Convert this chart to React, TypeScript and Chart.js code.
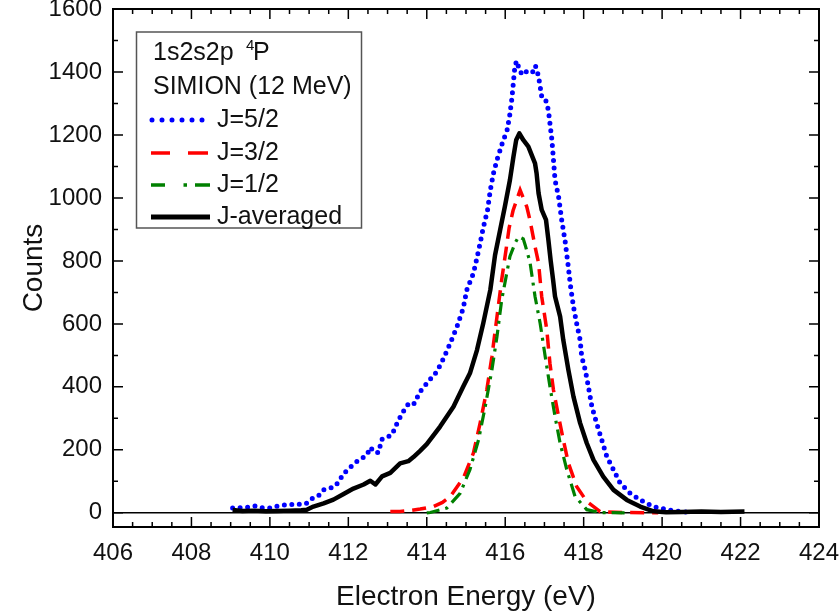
import React, { useEffect, useRef } from "react";
import { Chart, registerables } from "chart.js";

Chart.register(...registerables);

const FONT = "'Liberation Sans', Arial, sans-serif";

// ---- data ----
const energyJ52 = [409.05, 409.41, 409.63, 409.8, 410.0, 410.2, 410.47, 410.69, 410.8, 410.94, 411.03, 411.16, 411.24, 411.37, 411.54, 411.67, 411.84, 411.96, 412.09, 412.22, 412.35, 412.47, 412.57, 412.64, 412.77, 412.85, 412.98, 413.11, 413.24, 413.37, 413.53, 413.66, 413.83, 414.04, 414.26, 414.43, 414.6, 414.77, 414.93, 415.02, 415.19, 415.28, 415.36, 415.44, 415.55, 415.62, 415.7, 415.79, 415.87, 415.95, 416.04, 416.11, 416.17, 416.21, 416.25, 416.3, 416.36, 416.42, 416.48, 416.55, 416.62, 416.7, 416.77, 416.83, 416.87, 416.93, 417.02, 417.1, 417.14, 417.19, 417.23, 417.27, 417.36, 417.44, 417.53, 417.6, 417.67, 417.74, 417.82, 417.91, 417.95, 418.04, 418.12, 418.21, 418.33, 418.46, 418.59, 418.76, 418.93, 419.18, 419.44, 419.78, 420.12, 420.46, 420.7];
const countsJ52 = [15, 17, 22, 16, 15, 22, 26, 28, 26, 31, 42, 52, 54, 73, 79, 84, 116, 135, 149, 163, 173, 184, 208, 194, 191, 233, 241, 247, 284, 316, 346, 343, 385, 417, 449, 491, 539, 591, 650, 708, 761, 810, 856, 905, 962, 1025, 1078, 1121, 1152, 1184, 1210, 1258, 1316, 1369, 1422, 1435, 1405, 1395, 1405, 1400, 1405, 1400, 1420, 1395, 1370, 1322, 1316, 1279, 1237, 1184, 1121, 1057, 1004, 930, 860, 790, 715, 655, 602, 549, 496, 454, 401, 337, 285, 232, 179, 137, 94, 63, 41, 20, 10, 4, 2];

const energyJ32 = [413.07, 413.32, 413.6, 413.83, 414.17, 414.4, 414.6, 414.93, 415.19, 415.36, 415.53, 415.66, 415.79, 415.91, 416.02, 416.1, 416.2, 416.38, 416.55, 416.63, 416.76, 416.85, 416.93, 417.06, 417.14, 417.23, 417.36, 417.48, 417.61, 417.82, 418.08, 418.42, 419.0, 419.9];
const countsJ32 = [4, 4, 8, 12, 20, 33, 52, 110, 190, 285, 390, 496, 623, 740, 835, 905, 960, 1025, 972, 930, 846, 793, 687, 581, 475, 390, 306, 232, 158, 84, 36, 4, 1, 0];

const energyJ12 = [414.0, 414.09, 414.51, 414.85, 415.1, 415.32, 415.49, 415.66, 415.79, 415.91, 416.12, 416.25, 416.34, 416.46, 416.51, 416.63, 416.76, 416.89, 417.02, 417.14, 417.27, 417.4, 417.57, 417.78, 418.08, 418.42, 419.1];
const countsJ12 = [0, 1, 15, 62, 137, 232, 337, 454, 560, 676, 814, 856, 877, 870, 850, 797, 687, 602, 496, 401, 306, 221, 137, 52, 10, 1, 0];

const energyAvg = [409.05, 409.3, 409.6, 409.9, 410.2, 410.5, 410.8, 410.94, 411.11, 411.37, 411.62, 411.88, 412.13, 412.39, 412.56, 412.69, 412.86, 413.07, 413.32, 413.53, 413.66, 413.83, 414.0, 414.34, 414.68, 414.93, 415.1, 415.28, 415.44, 415.62, 415.74, 415.87, 415.99, 416.12, 416.21, 416.28, 416.36, 416.46, 416.59, 416.76, 416.8, 416.85, 416.93, 417.04, 417.1, 417.16, 417.22, 417.27, 417.4, 417.48, 417.61, 417.74, 417.91, 418.08, 418.25, 418.5, 418.76, 419.1, 419.44, 419.78, 420.1, 420.5, 421.0, 421.5, 422.1];
const countsAvg = [9, 6, 7, 5, 6, 7, 8, 10, 20, 30, 42, 60, 77, 90, 102, 90, 116, 127, 157, 164, 177, 197, 218, 274, 337, 401, 443, 517, 602, 708, 818, 898, 972, 1057, 1131, 1184, 1205, 1184, 1163, 1110, 1078, 1015, 962, 930, 867, 800, 740, 687, 623, 549, 454, 369, 285, 221, 168, 115, 73, 41, 20, 5, 2, 3, 4, 3, 4];

const seriesLabels = ["J=5/2", "J=3/2", "J=1/2", "J-averaged"];
const legendLine1 = "1s2s2p";
const legendSup = "4";
const legendLineP = "P";
const legendLine2 = "SIMION (12 MeV)";
const xAxisTitle = "Electron Energy (eV)";
const yAxisTitle = "Counts";

const xTickValues = [406, 408, 410, 412, 414, 416, 418, 420, 422, 424];
const yTickValues = [0, 200, 400, 600, 800, 1000, 1200, 1400, 1600];
const X_MIN = 406;
const X_MAX = 424;
const Y_MIN = -45;
const Y_MAX = 1600;
const X_MINOR = 0.5;
const Y_MINOR = 100;

const toPoints = (xs: number[], ys: number[]) => xs.map((x, i) => ({ x, y: ys[i] }));

const framePlugin = {
  id: "frameTicks",
  beforeDatasetsDraw(chart: any) {
    const { ctx, chartArea } = chart;
    const ys = chart.scales.y;
    const y0 = ys.getPixelForValue(0);
    ctx.save();
    ctx.strokeStyle = "#000";
    ctx.lineWidth = 1.5;
    ctx.beginPath();
    ctx.moveTo(chartArea.left, y0);
    ctx.lineTo(chartArea.right, y0);
    ctx.stroke();
    ctx.restore();
  },
  afterDatasetsDraw(chart: any) {
    const { ctx, chartArea } = chart;
    const { left, right, top, bottom } = chartArea;
    const xs = chart.scales.x;
    const ys = chart.scales.y;
    ctx.save();
    ctx.strokeStyle = "#000";
    ctx.lineWidth = 1.5;
    ctx.beginPath();
    const nx = Math.round((X_MAX - X_MIN) / X_MINOR);
    for (let i = 0; i <= nx; i++) {
      const v = X_MIN + i * X_MINOR;
      const px = xs.getPixelForValue(v);
      const major = xTickValues.includes(v);
      const len = major ? 10 : 5;
      ctx.moveTo(px, bottom);
      ctx.lineTo(px, bottom - len);
      ctx.moveTo(px, top);
      ctx.lineTo(px, top + len);
    }
    for (let v = 0; v <= Y_MAX; v += Y_MINOR) {
      const py = ys.getPixelForValue(v);
      const major = yTickValues.includes(v);
      const len = major ? 10 : 5;
      ctx.moveTo(left, py);
      ctx.lineTo(left + len, py);
      ctx.moveTo(right, py);
      ctx.lineTo(right - len, py);
    }
    ctx.stroke();
    ctx.lineWidth = 2;
    ctx.strokeRect(left, top, right - left, bottom - top);

    // legend box
    const bx = left + 23.5;
    const by = top + 23;
    const bw = 225;
    const bh = 196;
    ctx.fillStyle = "#fff";
    ctx.fillRect(bx, by, bw, bh);
    ctx.strokeStyle = "#555";
    ctx.lineWidth = 1.5;
    ctx.strokeRect(bx, by, bw, bh);

    ctx.fillStyle = "#111";
    ctx.textBaseline = "middle";
    ctx.textAlign = "left";
    ctx.font = `25px ${FONT}`;
    ctx.fillText(legendLine1, left + 40, top + 44);
    ctx.fillText(legendLineP, left + 140, top + 44);
    ctx.font = `15px ${FONT}`;
    ctx.fillText(legendSup, left + 133, top + 37);
    ctx.font = `25px ${FONT}`;
    ctx.fillText(legendLine2, left + 40, top + 78);

    const rows = [top + 111, top + 144, top + 176, top + 208];
    const x0 = left + 38;
    // blue dots
    ctx.lineCap = "round";
    ctx.strokeStyle = "#0000ff";
    ctx.lineWidth = 5;
    ctx.setLineDash([0, 10]);
    ctx.beginPath();
    ctx.moveTo(x0 + 1, rows[0]);
    ctx.lineTo(x0 + 51.1, rows[0]);
    ctx.stroke();
    // red dashes
    ctx.lineCap = "butt";
    ctx.setLineDash([]);
    ctx.strokeStyle = "#ff0000";
    ctx.lineWidth = 3.5;
    ctx.beginPath();
    ctx.moveTo(x0, rows[1]);
    ctx.lineTo(x0 + 19, rows[1]);
    ctx.moveTo(x0 + 37, rows[1]);
    ctx.lineTo(x0 + 57, rows[1]);
    ctx.stroke();
    // green dash-dot
    ctx.strokeStyle = "#008000";
    ctx.lineWidth = 3.5;
    ctx.beginPath();
    ctx.moveTo(x0, rows[2]);
    ctx.lineTo(x0 + 14, rows[2]);
    ctx.moveTo(x0 + 32.5, rows[2]);
    ctx.lineTo(x0 + 36, rows[2]);
    ctx.moveTo(x0 + 44, rows[2]);
    ctx.lineTo(x0 + 59, rows[2]);
    ctx.stroke();
    // black solid
    ctx.strokeStyle = "#000";
    ctx.lineWidth = 5;
    ctx.beginPath();
    ctx.moveTo(x0, rows[3]);
    ctx.lineTo(x0 + 59, rows[3]);
    ctx.stroke();

    ctx.fillStyle = "#111";
    ctx.font = `25px ${FONT}`;
    seriesLabels.forEach((t, i) => ctx.fillText(t, left + 104, rows[i]));
    ctx.restore();
  },
};

export default function App() {
  const ref = useRef<HTMLCanvasElement>(null);
  useEffect(() => {
    if (!ref.current) return;
    const chart = new Chart(ref.current, {
      type: "scatter",
      data: {
        datasets: [
          {
            label: seriesLabels[0],
            data: toPoints(energyJ52, countsJ52),
            showLine: true,
            borderColor: "#0000ff",
            borderWidth: 5,
            borderDash: [0, 7.5],
            borderCapStyle: "round",
            pointRadius: 0,
            fill: false,
            tension: 0,
            order: 4,
          },
          {
            label: seriesLabels[1],
            data: toPoints(energyJ32, countsJ32),
            showLine: true,
            borderColor: "#ff0000",
            borderWidth: 3.5,
            borderDash: [14, 8],
            pointRadius: 0,
            fill: false,
            tension: 0,
            order: 3,
          },
          {
            label: seriesLabels[2],
            data: toPoints(energyJ12, countsJ12),
            showLine: true,
            borderColor: "#008000",
            borderWidth: 3.2,
            borderDash: [13, 6, 3, 6],
            pointRadius: 0,
            fill: false,
            tension: 0,
            order: 2,
          },
          {
            label: seriesLabels[3],
            data: toPoints(energyAvg, countsAvg),
            showLine: true,
            borderColor: "#000",
            borderWidth: 4.5,
            borderJoinStyle: "round",
            pointRadius: 0,
            fill: false,
            tension: 0,
            order: 1,
          },
        ],
      } as any,
      options: {
        animation: false,
        responsive: false,
        maintainAspectRatio: false,
        devicePixelRatio: 1,
        layout: { padding: { top: 29, left: 0, right: 61, bottom: 0 } },
        plugins: { legend: { display: false }, tooltip: { enabled: false } },
        scales: {
          x: {
            type: "linear",
            min: X_MIN,
            max: X_MAX,
            afterBuildTicks: (s: any) => {
              s.ticks = xTickValues.map((v) => ({ value: v }));
            },
            afterFit: (s: any) => {
              s.height = 89;
            },
            grid: { display: false, drawTicks: false },
            border: { display: false },
            ticks: {
              padding: 12,
              color: "#111",
              font: { family: FONT, size: 24 },
              maxRotation: 0,
              autoSkip: false,
              callback: (v: any) => String(v),
            },
            title: {
              display: true,
              text: xAxisTitle,
              color: "#111",
              font: { family: FONT, size: 28 },
              padding: { top: 0, bottom: 2 },
            },
          },
          y: {
            type: "linear",
            min: Y_MIN,
            max: Y_MAX,
            afterBuildTicks: (s: any) => {
              s.ticks = yTickValues.map((v) => ({ value: v }));
            },
            afterFit: (s: any) => {
              s.width = 113;
            },
            grid: { display: false, drawTicks: false },
            border: { display: false },
            ticks: {
              padding: 11,
              color: "#111",
              font: { family: FONT, size: 24 },
              autoSkip: false,
              callback: (v: any) => String(v),
            },
            title: {
              display: true,
              text: yAxisTitle,
              color: "#111",
              font: { family: FONT, size: 28 },
              padding: { top: 17, bottom: 0 },
            },
          },
        },
      } as any,
      plugins: [framePlugin],
    });
    return () => chart.destroy();
  }, []);

  return (
    <div
      style={{
        position: "fixed",
        left: 0,
        top: 0,
        width: 840,
        height: 616,
        overflow: "hidden",
        background: "#fff",
      }}
    >
      <div style={{ position: "absolute", left: 0, top: -20, width: 880, height: 636 }}>
        <canvas ref={ref} width={880} height={636} style={{ display: "block", width: 880, height: 636 }} />
      </div>
    </div>
  );
}
